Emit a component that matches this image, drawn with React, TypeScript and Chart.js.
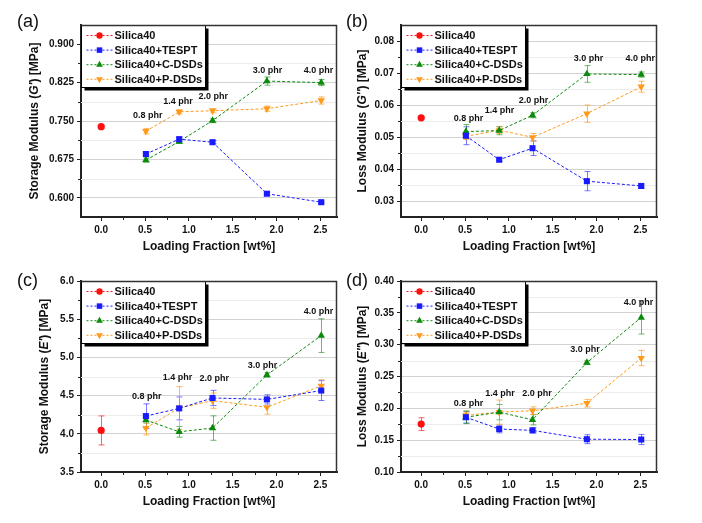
import React, { useEffect, useRef } from "react";
import { Chart, registerables } from "chart.js";
Chart.register(...registerables);

const FONT = "'Liberation Sans', Arial, sans-serif";

// shared x data
const xSilica = [0];
const xLoading = [0.51, 0.89, 1.27, 1.89, 2.51];
const xTicks = [0, 0.5, 1.0, 1.5, 2.0, 2.5];
const phrLabels = ["0.8 phr", "1.4 phr", "2.0 phr", "3.0 phr", "4.0 phr"];
const seriesNames = ["Silica40", "Silica40+TESPT", "Silica40+C-DSDs", "Silica40+P-DSDs"];

// (a) storage modulus G'
const aSilica = [0.739];
const aSilicaErr = [0.003];
const aTespt = [0.6855, 0.7145, 0.7086, 0.608, 0.5914];
const aTesptErr = [0.004, 0.004, 0.003, 0.003, 0.002];
const aCdsd = [0.6737, 0.71, 0.7507, 0.828, 0.825];
const aCdsdErr = [0.004, 0.004, 0.004, 0.008, 0.006];
const aPdsd = [0.73, 0.768, 0.77, 0.774, 0.79];
const aPdsdErr = [0.005, 0.004, 0.004, 0.005, 0.007];
const aYTicks = [0.6, 0.675, 0.75, 0.825, 0.9];
const aPhrX = [0.53, 0.876, 1.278, 1.896, 2.48];
const aPhrY = [0.7605, 0.789, 0.798, 0.848, 0.848];

// (b) loss modulus G''
const bSilica = [0.056];
const bSilicaErr = [0.0003];
const bTespt = [0.0504, 0.0429, 0.0465, 0.0362, 0.0347];
const bTesptErr = [0.0028, 0.0005, 0.0023, 0.003, 0.0006];
const bCdsd = [0.0517, 0.052, 0.0568, 0.0697, 0.0695];
const bCdsdErr = [0.0022, 0.0013, 0.0008, 0.0026, 0.0008];
const bPdsd = [0.0502, 0.0521, 0.0499, 0.0573, 0.0657];
const bPdsdErr = [0.001, 0.001, 0.0012, 0.0027, 0.0017];
const bYTicks = [0.03, 0.04, 0.05, 0.06, 0.07, 0.08];
const bPhrX = [0.54, 0.894, 1.28, 1.91, 2.5];
const bPhrY = [0.0559, 0.0583, 0.0613, 0.0744, 0.0744];

// (c) storage modulus E'
const cSilica = [4.044];
const cSilicaErr = [0.19];
const cTespt = [4.232, 4.333, 4.469, 4.45, 4.566];
const cTesptErr = [0.16, 0.15, 0.1, 0.06, 0.13];
const cCdsd = [4.18, 4.026, 4.075, 4.77, 5.285];
const cCdsdErr = [0.04, 0.07, 0.16, 0.03, 0.22];
const cPdsd = [4.075, 4.338, 4.434, 4.347, 4.627];
const cPdsdErr = [0.09, 0.28, 0.1, 0.09, 0.08];
const cYTicks = [3.5, 4.0, 4.5, 5.0, 5.5, 6.0];
const cPhrX = [0.52, 0.87, 1.29, 1.84, 2.48];
const cPhrY = [4.49, 4.74, 4.73, 4.9, 5.6];

// (d) loss modulus E''
const dSilica = [0.1753];
const dSilicaErr = [0.01];
const dTespt = [0.186, 0.1675, 0.1654, 0.1515, 0.151];
const dTesptErr = [0.009, 0.006, 0.004, 0.007, 0.008];
const dCdsd = [0.186, 0.194, 0.182, 0.2718, 0.3427];
const dCdsdErr = [0.01, 0.012, 0.008, 0.003, 0.026];
const dPdsd = [0.189, 0.194, 0.1963, 0.208, 0.279];
const dPdsdErr = [0.005, 0.019, 0.006, 0.006, 0.012];
const dYTicks = [0.1, 0.15, 0.2, 0.25, 0.3, 0.35, 0.4];
const dPhrX = [0.54, 0.9, 1.32, 1.87, 2.48];
const dPhrY = [0.208, 0.2226, 0.2226, 0.293, 0.366];

const X_MIN = -0.23;
const X_MAX = 2.69;

const COLORS = ["#ff1010", "#1a1aff", "#0b8a0b", "#ff9a1a"];
const ERR_COLORS = ["rgba(255,16,16,0.65)", "rgba(26,26,255,0.6)", "rgba(11,138,11,0.6)", "rgba(255,154,26,0.7)"];
const STYLES = ["circle", "rect", "triangle", "triangle"];
const ROTS = [0, 0, 0, 180];
const RADII = [3.6, 4.3, 4.3, 4.3];

type PanelCfg = {
  left: number; top: number; width: number; height: number;
  padTop: number; padRight: number; yAxisWidth: number; xAxisHeight: number;
  yMin: number; yMax: number; yTicks: number[]; yDecimals: number;
  yTitle: [string, string, string]; yTitleOffset: number;
  series: number[][]; errors: number[][];
  phrX: number[]; phrY: number[];
};

function drawMarker(ctx: CanvasRenderingContext2D, style: string, rot: number, r: number, x: number, y: number) {
  ctx.beginPath();
  if (style === "circle") {
    ctx.arc(x, y, r, 0, Math.PI * 2);
  } else if (style === "rect") {
    const s = Math.SQRT1_2 * r;
    ctx.rect(x - s, y - s, 2 * s, 2 * s);
  } else {
    let rad = (rot * Math.PI) / 180;
    for (let k = 0; k < 3; k++) {
      const px = x + Math.sin(rad) * r;
      const py = y - Math.cos(rad) * r;
      if (k === 0) ctx.moveTo(px, py); else ctx.lineTo(px, py);
      rad += (2 * Math.PI) / 3;
    }
    ctx.closePath();
  }
  ctx.fill();
}

function midpoints(ticks: number[]) {
  const out: number[] = [];
  for (let i = 0; i < ticks.length - 1; i++) out.push((ticks[i] + ticks[i + 1]) / 2);
  return out;
}

function Panel({ cfg }: { cfg: PanelCfg }) {
  const ref = useRef<HTMLCanvasElement | null>(null);
  useEffect(() => {
    if (!ref.current) return;
    const datasets = cfg.series.map((vals, si) => {
      const xs = si === 0 ? xSilica : xLoading;
      return {
        label: seriesNames[si],
        data: vals.map((v, i) => ({ x: xs[i], y: v })),
        errors: cfg.errors[si],
        showLine: true,
        borderColor: COLORS[si],
        backgroundColor: COLORS[si],
        borderWidth: 1,
        borderDash: [3, 2],
        pointStyle: STYLES[si],
        rotation: ROTS[si],
        pointRotation: ROTS[si],
        pointRadius: RADII[si],
        pointBorderWidth: 0,
        pointBackgroundColor: COLORS[si],
        pointBorderColor: COLORS[si],
        tension: 0,
      } as any;
    });

    const plugin = {
      id: "panelExtras",
      beforeDatasetsDraw(chart: any) {
        const ctx = chart.ctx as CanvasRenderingContext2D;
        const area = chart.chartArea;
        const ys = chart.scales.y;
        ctx.save();
        // faint minor gridlines
        ctx.strokeStyle = "#ececec";
        ctx.lineWidth = 1;
        midpoints(cfg.yTicks).forEach((v) => {
          const py = Math.round(ys.getPixelForValue(v)) + 0.5;
          ctx.beginPath();
          ctx.moveTo(area.left, py);
          ctx.lineTo(area.right, py);
          ctx.stroke();
        });
        // error bars
        chart.data.datasets.forEach((ds: any, di: number) => {
          const meta = chart.getDatasetMeta(di);
          ctx.strokeStyle = ERR_COLORS[di];
          ctx.lineWidth = 1;
          ds.data.forEach((p: any, j: number) => {
            const e = ds.errors ? ds.errors[j] : 0;
            if (!e) return;
            const px = Math.round(meta.data[j].x) + 0.5;
            const y1 = ys.getPixelForValue(p.y + e);
            const y2 = ys.getPixelForValue(p.y - e);
            ctx.beginPath();
            ctx.moveTo(px, y1);
            ctx.lineTo(px, y2);
            ctx.moveTo(px - 3, y1);
            ctx.lineTo(px + 3, y1);
            ctx.moveTo(px - 3, y2);
            ctx.lineTo(px + 3, y2);
            ctx.stroke();
          });
        });
        ctx.restore();
      },
      afterDatasetsDraw(chart: any) {
        const ctx = chart.ctx as CanvasRenderingContext2D;
        const area = chart.chartArea;
        const ys = chart.scales.y;
        const xs = chart.scales.x;
        ctx.save();
        // phr annotations
        ctx.fillStyle = "#111";
        ctx.font = `bold 9px ${FONT}`;
        ctx.textAlign = "center";
        ctx.textBaseline = "middle";
        phrLabels.forEach((t, i) => {
          ctx.fillText(t, xs.getPixelForValue(cfg.phrX[i]), ys.getPixelForValue(cfg.phrY[i]));
        });
        // legend box
        const bx = area.left + 0.5;
        const by = area.top + 0.5;
        const bw = 124;
        const bh = 62;
        ctx.fillStyle = "#000";
        ctx.fillRect(bx + 3, by + 3, bw, bh);
        ctx.fillStyle = "#fff";
        ctx.fillRect(bx, by, bw, bh);
        ctx.strokeStyle = "#000";
        ctx.lineWidth = 1;
        ctx.strokeRect(bx, by, bw, bh);
        seriesNames.forEach((name, i) => {
          const ry = by + 10 + i * 14.6;
          ctx.strokeStyle = COLORS[i];
          ctx.lineWidth = 1;
          ctx.setLineDash([2, 2]);
          ctx.beginPath();
          ctx.moveTo(bx + 5, ry);
          ctx.lineTo(bx + 31, ry);
          ctx.stroke();
          ctx.setLineDash([]);
          ctx.fillStyle = COLORS[i];
          drawMarker(ctx, STYLES[i], ROTS[i], RADII[i] - 0.4, bx + 18, ry);
          ctx.fillStyle = "#111";
          ctx.font = `bold 11px ${FONT}`;
          ctx.textAlign = "left";
          ctx.textBaseline = "middle";
          ctx.fillText(name, bx + 33, ry + 0.5);
        });
        ctx.restore();
      },
      afterDraw(chart: any) {
        const ctx = chart.ctx as CanvasRenderingContext2D;
        const area = chart.chartArea;
        const ys = chart.scales.y;
        const xs = chart.scales.x;
        ctx.save();
        // frame top/right
        ctx.strokeStyle = "#333";
        ctx.lineWidth = 1.5;
        ctx.beginPath();
        ctx.moveTo(area.left, area.top + 0.5);
        ctx.lineTo(area.right - 0.5, area.top + 0.5);
        ctx.lineTo(area.right - 0.5, area.bottom);
        ctx.stroke();
        // minor ticks
        ctx.strokeStyle = "#222";
        ctx.lineWidth = 1;
        ctx.beginPath();
        midpoints(cfg.yTicks).forEach((v) => {
          const py = Math.round(ys.getPixelForValue(v)) + 0.5;
          ctx.moveTo(area.left, py);
          ctx.lineTo(area.left - 3, py);
        });
        midpoints(xTicks).forEach((v) => {
          const px = Math.round(xs.getPixelForValue(v)) + 0.5;
          ctx.moveTo(px, area.bottom);
          ctx.lineTo(px, area.bottom + 3);
        });
        ctx.stroke();
        // x title
        ctx.fillStyle = "#111";
        ctx.font = `bold 12px ${FONT}`;
        ctx.textAlign = "center";
        ctx.textBaseline = "middle";
        ctx.fillText("Loading Fraction [wt%]", (area.left + area.right) / 2, area.bottom + 30);
        // y title with italic part
        ctx.translate(area.left - cfg.yTitleOffset, (area.top + area.bottom) / 2);
        ctx.rotate(-Math.PI / 2);
        const fN = `bold 12px ${FONT}`;
        const fI = `italic bold 12px ${FONT}`;
        const parts: [string, string][] = [[cfg.yTitle[0], fN], [cfg.yTitle[1], fI], [cfg.yTitle[2], fN]];
        let total = 0;
        parts.forEach(([t, f]) => { ctx.font = f; total += ctx.measureText(t).width; });
        let cx = -total / 2;
        ctx.textAlign = "left";
        parts.forEach(([t, f]) => {
          ctx.font = f;
          ctx.fillText(t, cx, 0);
          cx += ctx.measureText(t).width;
        });
        ctx.restore();
      },
    };

    const chart = new Chart(ref.current, {
      type: "scatter",
      data: { datasets },
      options: {
        animation: false,
        responsive: false,
        maintainAspectRatio: false,
        devicePixelRatio: 1,
        layout: { padding: { top: cfg.padTop, right: cfg.padRight, left: 0, bottom: 0 } },
        plugins: { legend: { display: false }, tooltip: { enabled: false } },
        scales: {
          x: {
            type: "linear",
            min: X_MIN,
            max: X_MAX,
            afterBuildTicks: (s: any) => { s.ticks = xTicks.map((v) => ({ value: v })); },
            afterFit: (s: any) => { s.height = cfg.xAxisHeight; },
            grid: { drawOnChartArea: false, drawTicks: true, tickLength: 4, tickColor: "#222", tickWidth: 1 },
            border: { display: true, color: "#222", width: 2 },
            ticks: {
              autoSkip: false,
              maxRotation: 0,
              padding: 3,
              color: "#111",
              font: { family: FONT, size: 10, weight: "bold" },
              callback: (v: any) => Number(v).toFixed(1),
            },
          },
          y: {
            type: "linear",
            min: cfg.yMin,
            max: cfg.yMax,
            afterBuildTicks: (s: any) => { s.ticks = cfg.yTicks.map((v) => ({ value: v })); },
            afterFit: (s: any) => { s.width = cfg.yAxisWidth; },
            grid: { drawOnChartArea: true, color: "#d2d2d2", lineWidth: 1, drawTicks: true, tickLength: 4, tickColor: "#222", tickWidth: 1 },
            border: { display: true, color: "#222", width: 2 },
            ticks: {
              autoSkip: false,
              padding: 3,
              color: "#111",
              font: { family: FONT, size: 10, weight: "bold" },
              callback: (v: any) => Number(v).toFixed(cfg.yDecimals),
            },
          },
        },
      } as any,
      plugins: [plugin],
    });
    return () => chart.destroy();
  }, [cfg]);

  return (
    <canvas
      ref={ref}
      width={cfg.width}
      height={cfg.height}
      style={{ position: "absolute", left: cfg.left, top: cfg.top, width: cfg.width, height: cfg.height }}
    />
  );
}

const panels: PanelCfg[] = [
  {
    left: 0, top: 0, width: 351, height: 262, padTop: 25, padRight: 14, yAxisWidth: 81, xAxisHeight: 45,
    yMin: 0.5625, yMax: 0.9375, yTicks: aYTicks, yDecimals: 3,
    yTitle: ["Storage Modulus (", "G'", ") [MPa]"], yTitleOffset: 46,
    series: [aSilica, aTespt, aCdsd, aPdsd], errors: [aSilicaErr, aTesptErr, aCdsdErr, aPdsdErr],
    phrX: aPhrX, phrY: aPhrY,
  },
  {
    left: 351, top: 0, width: 351, height: 262, padTop: 25, padRight: 45, yAxisWidth: 50, xAxisHeight: 45,
    yMin: 0.025, yMax: 0.085, yTicks: bYTicks, yDecimals: 2,
    yTitle: ["Loss Modulus (", "G''", ") [MPa]"], yTitleOffset: 38,
    series: [bSilica, bTespt, bCdsd, bPdsd], errors: [bSilicaErr, bTesptErr, bCdsdErr, bPdsdErr],
    phrX: bPhrX, phrY: bPhrY,
  },
  {
    left: 0, top: 262, width: 351, height: 261, padTop: 19, padRight: 14, yAxisWidth: 81, xAxisHeight: 51,
    yMin: 3.5, yMax: 6.0, yTicks: cYTicks, yDecimals: 1,
    yTitle: ["Storage Modulus (", "E'", ") [MPa]"], yTitleOffset: 36,
    series: [cSilica, cTespt, cCdsd, cPdsd], errors: [cSilicaErr, cTesptErr, cCdsdErr, cPdsdErr],
    phrX: cPhrX, phrY: cPhrY,
  },
  {
    left: 351, top: 262, width: 351, height: 261, padTop: 19, padRight: 45, yAxisWidth: 50, xAxisHeight: 51,
    yMin: 0.1, yMax: 0.4, yTicks: dYTicks, yDecimals: 2,
    yTitle: ["Loss Modulus (", "E''", ") [MPa]"], yTitleOffset: 38,
    series: [dSilica, dTespt, dCdsd, dPdsd], errors: [dSilicaErr, dTesptErr, dCdsdErr, dPdsdErr],
    phrX: dPhrX, phrY: dPhrY,
  },
];

const panelLetters = [
  { text: "(a)", left: 17, top: 11 },
  { text: "(b)", left: 346, top: 11 },
  { text: "(c)", left: 17, top: 270 },
  { text: "(d)", left: 346, top: 270 },
];

export default function App() {
  return (
    <div style={{ position: "absolute", left: 0, top: 0, width: 702, height: 523, background: "#fff", overflow: "hidden" }}>
      {panels.map((p, i) => (
        <Panel key={i} cfg={p} />
      ))}
      {panelLetters.map((l) => (
        <div
          key={l.text}
          style={{ position: "absolute", left: l.left, top: l.top, fontFamily: FONT, fontSize: 18, lineHeight: "20px", color: "#111" }}
        >
          {l.text}
        </div>
      ))}
    </div>
  );
}
